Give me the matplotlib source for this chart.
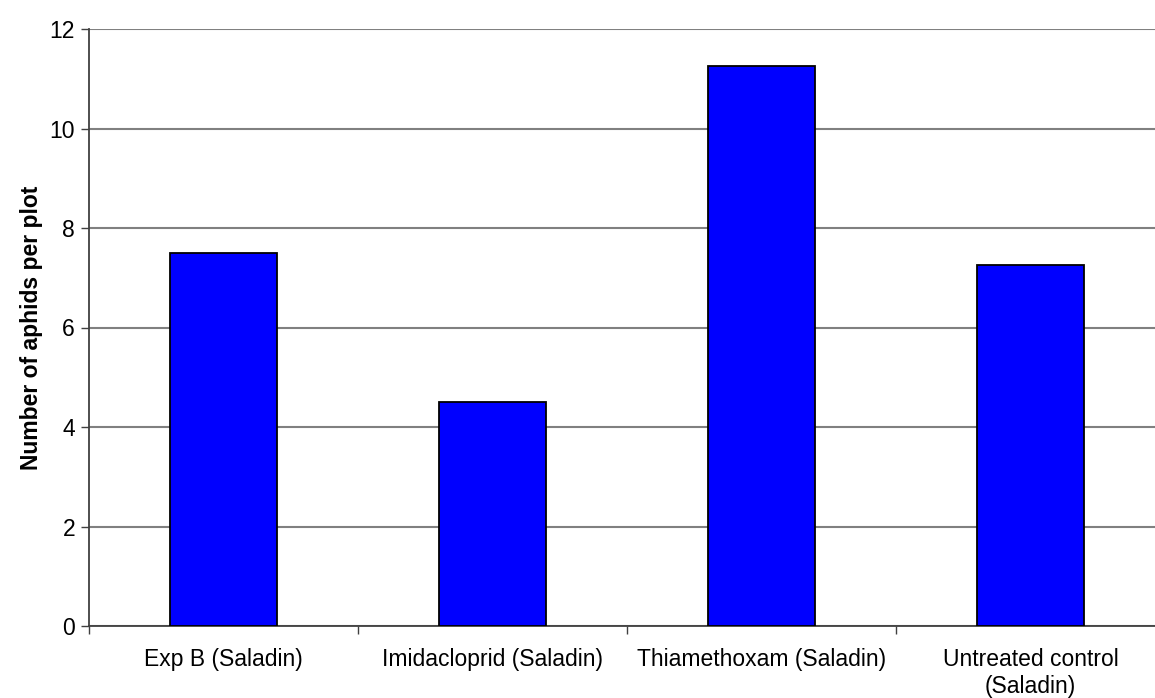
import matplotlib
matplotlib.use("Agg")
import matplotlib.pyplot as plt
import numpy as np

categories = ["Exp B (Saladin)", "Imidacloprid (Saladin)", "Thiamethoxam (Saladin)",
              "Untreated control\n(Saladin)"]
aphids = [7.5, 4.5, 11.25, 7.25]
y_ticks = [0, 2, 4, 6, 8, 10, 12]

plt.rcParams["font.family"] = ["Liberation Sans", "DejaVu Sans"]

fig = plt.figure(figsize=(11.55, 6.98), dpi=100)
# plot area runs slightly past the right edge of the canvas
ax = fig.add_axes([89 / 1155, 1 - 626 / 698, 1076 / 1155, (626 - 29) / 698])

x = np.arange(len(categories))
ax.bar(x, aphids, width=0.40, color="#0000FF", edgecolor="black", linewidth=1.3, zorder=3)

ax.set_xlim(-0.5, len(categories) - 0.5)
ax.set_ylim(0, 12)
ax.set_yticks(y_ticks)
ax.set_yticklabels([str(v) for v in y_ticks], fontsize=16.5)
ax.yaxis.grid(True, color="#808080", linewidth=1.5, zorder=0)
ax.set_axisbelow(True)

# category labels centred under bars, ticks on category boundaries
ax.set_xticks(x)
ax.set_xticklabels(categories, fontsize=16.5, linespacing=1.2)
ax.tick_params(axis="x", length=0, pad=16)
ax.set_xticks(np.arange(len(categories) + 1) - 0.5, minor=True)
ax.tick_params(axis="x", which="minor", length=6, width=1, color="#404040")
ax.tick_params(axis="y", length=6, width=1, color="#404040", pad=4)

for side in ("top", "right"):
    ax.spines[side].set_visible(False)
ax.spines["left"].set_color("#404040")
ax.spines["left"].set_linewidth(1.3)
ax.spines["bottom"].set_color("#404040")
ax.spines["bottom"].set_linewidth(1.3)

ax.set_ylabel("Number of aphids per plot", fontsize=16.5, fontweight="bold")
ax.yaxis.set_label_coords(-46 / 1076, 0.5)

fig.savefig("out.png", dpi=100)
